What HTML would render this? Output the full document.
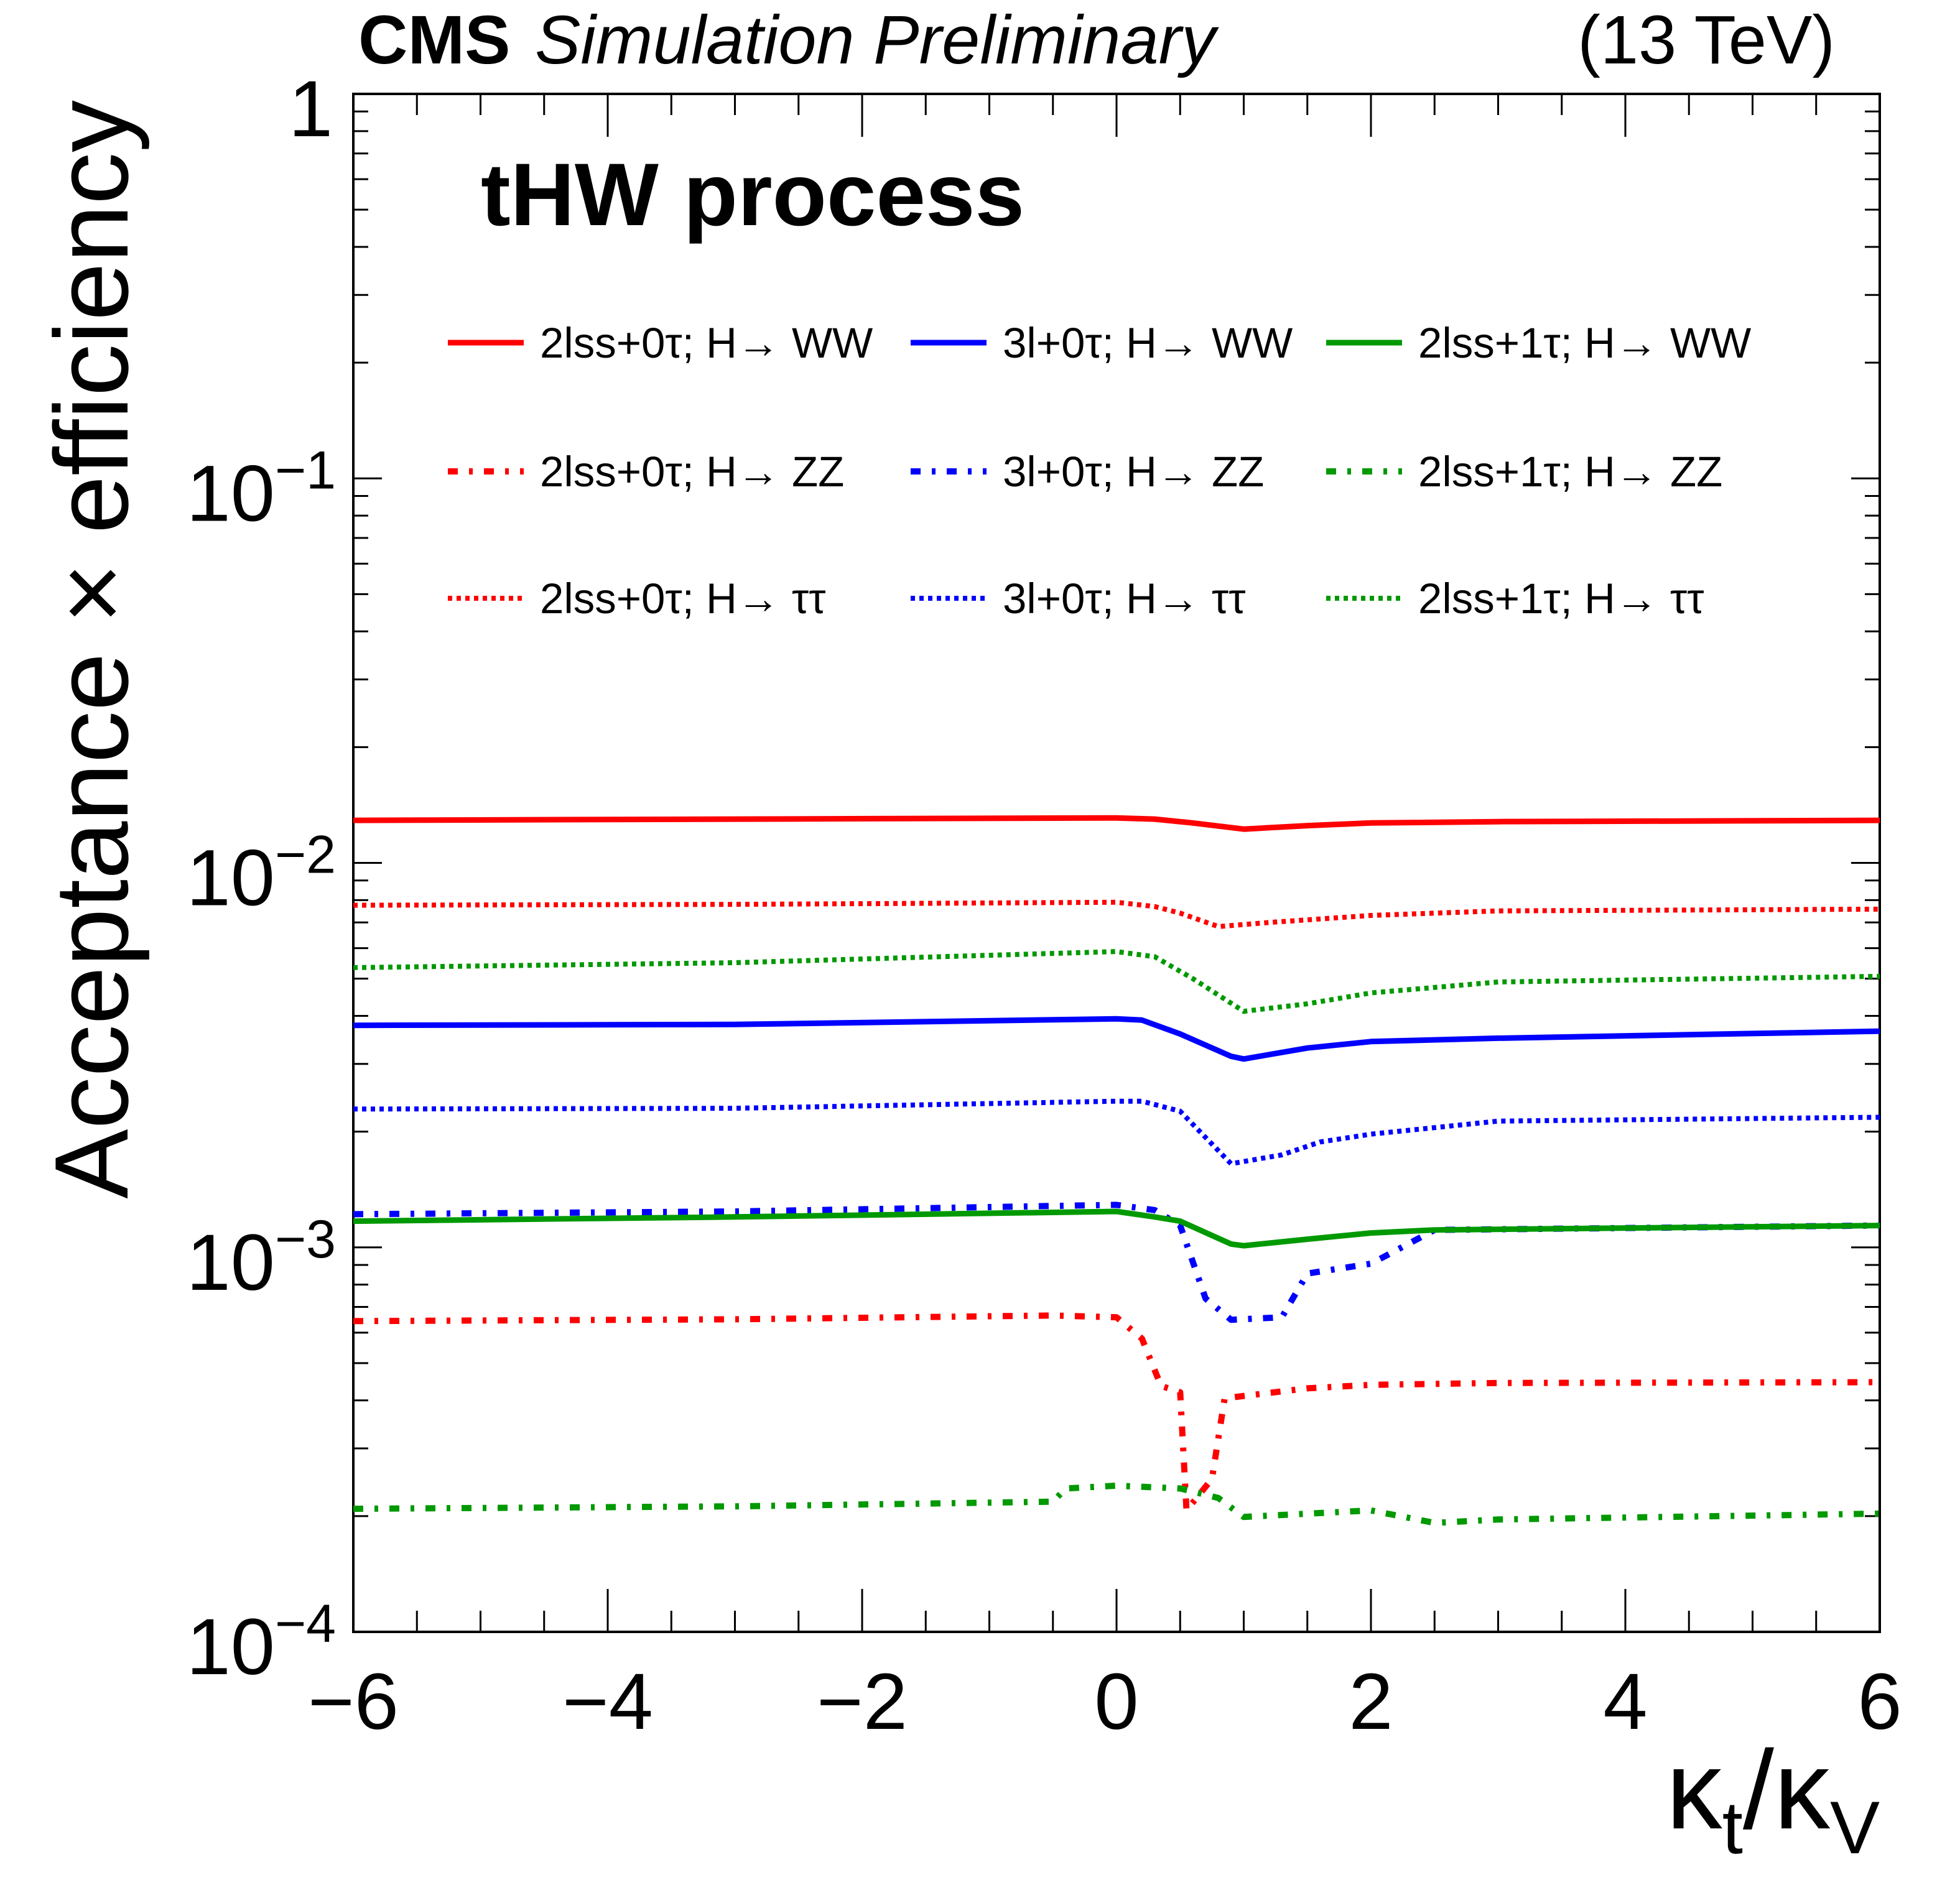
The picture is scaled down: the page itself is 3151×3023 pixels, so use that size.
<!DOCTYPE html>
<html><head><meta charset="utf-8">
<style>
html,body{margin:0;padding:0;background:#fff;}
svg{display:block;font-family:"Liberation Sans",sans-serif;}
</style></head>
<body>
<svg id="chart" width="3151" height="3023" viewBox="0 0 3151 3023" xmlns="http://www.w3.org/2000/svg">
  <rect width="3151" height="3023" fill="#fff"/>
  <text x="576" y="102" font-size="110" font-weight="bold">CMS</text>
  <text x="860" y="102" font-size="110" font-style="italic">Simulation Preliminary</text>
  <text x="2950" y="102" font-size="110" text-anchor="end">(13 TeV)</text>
  <text x="773" y="362" font-size="143" font-weight="bold">tHW process</text>
  <text transform="translate(205,161) rotate(-90)" font-size="168" text-anchor="end">Acceptance × efficiency</text>
  <text x="3022" y="2940" font-size="180" text-anchor="end">κ<tspan font-size="120" dy="40">t</tspan><tspan font-size="180" dy="-40">/κ</tspan><tspan font-size="120" dy="40">V</tspan></text>
  <g id="axes"></g>
  <g id="series"></g>
  <g id="legend"></g>
</svg>
<script>
const xTicks = [-6,-4,-2,0,2,4,6];
const xTickLabels = ["−6","−4","−2","0","2","4","6"];
const yDecades = [-4,-3,-2,-1,0];
const xs_red_ww = [-6,-3,0,0.3,0.6,1,1.5,2,3,6];
const v_red_ww = [0.0129,0.0130,0.01309,0.0130,0.0127,0.01224,0.0125,0.0127,0.0128,0.0129];
const xs_red_tt = [-6,-3,0,0.3,0.5,0.8,1.2,2,3,6];
const v_red_tt = [0.00776,0.0078,0.0079,0.0077,0.0074,0.00683,0.0070,0.0073,0.0075,0.00758];
const xs_grn_tt = [-6,-3,0,0.3,0.6,1,1.5,2,3,6];
const v_grn_tt = [0.00534,0.0055,0.00588,0.0057,0.0050,0.00411,0.0043,0.00459,0.0049,0.00507];
const xs_blu_ww = [-6,-3,0,0.2,0.5,0.9,1,1.5,2,3,6];
const v_blu_ww = [0.00378,0.0038,0.00393,0.0039,0.00359,0.00314,0.00309,0.0033,0.00343,0.0035,0.00365];
const xs_blu_tt = [-6,-3,0,0.2,0.5,0.9,1.3,1.6,2,3,6];
const v_blu_tt = [0.00229,0.0023,0.00240,0.0024,0.00226,0.00165,0.00174,0.00188,0.00197,0.00213,0.00218];
const xs_grn_ww = [-6,-3,0,0.3,0.5,0.9,1,1.5,2,2.5,6];
const v_grn_ww = [0.00117,0.0012,0.00124,0.0012,0.00117,0.00102,0.00101,0.00105,0.00109,0.00111,0.00114];
const xs_blu_zz = [-6,-3,0,0.3,0.5,0.7,0.9,1.3,1.5,2,2.5,6];
const v_blu_zz = [0.00122,0.00124,0.00129,0.00125,0.00114,0.000736,0.000648,0.000658,0.000855,0.000907,0.00111,0.00114];
const xs_red_zz = [-6,-3,-0.5,0,0.2,0.35,0.5,0.55,0.75,0.85,1.5,2,3,6];
const v_red_zz = [0.000643,0.00065,0.000665,0.000658,0.000579,0.000436,0.00042,0.000207,0.00025,0.000405,0.00043,0.000439,0.000444,0.000446];
const xs_grn_zz = [-6,-3,-0.5,-0.4,0,0.5,0.8,1,2,2.5,3,6];
const v_grn_zz = [0.000209,0.000212,0.000218,0.000236,0.000240,0.000236,0.000223,0.000199,0.000207,0.000192,0.000196,0.000203];
const legendLabels = [
 "2lss+0τ; H→ WW","3l+0τ; H→ WW","2lss+1τ; H→ WW",
 "2lss+0τ; H→ ZZ","3l+0τ; H→ ZZ","2lss+1τ; H→ ZZ",
 "2lss+0τ; H→ ττ","3l+0τ; H→ ττ","2lss+1τ; H→ ττ"];

const L=568,R=3022,T=151,B=2624;
const NS="http://www.w3.org/2000/svg";
function X(v){return L+(v+6)/12*(R-L);}
function Y(v){return B-(Math.log10(v)+4)/4*(B-T);}
function mk(tag,attrs,parent){const e=document.createElementNS(NS,tag);for(const k in attrs)e.setAttribute(k,attrs[k]);parent.appendChild(e);return e;}
const axes=document.getElementById('axes');
for(let i=0;i<=24;i++){
  const v=-6+i*0.5; const major=(i%4===0); const len=major?69:34; const x=X(v);
  const t1=mk('line',{x1:x,y1:B,x2:x,y2:B-len,stroke:'#000','stroke-width':3},axes);
  
  
  const t2=mk('line',{x1:x,y1:T,x2:x,y2:T+len,stroke:'#000','stroke-width':3},axes);
  
  
}
for(let d=-4;d<0;d++){
  for(let m=1;m<=9;m++){
    const v=m*Math.pow(10,d); const y=Y(v); const len=(m===1)?46:24;
    const a=mk('line',{x1:L,y1:y,x2:L+len,y2:y,stroke:'#000','stroke-width':3},axes);
    
    
    const b=mk('line',{x1:R,y1:y,x2:R-len,y2:y,stroke:'#000','stroke-width':3},axes);
    
    
  }
}
const fr=mk('rect',{x:L,y:T,width:R-L,height:B-T,fill:'none',stroke:'#000','stroke-width':4},axes);


xTicks.forEach((v,i)=>{
  const t=mk('text',{x:X(v),y:2780,'font-size':128,'text-anchor':'middle'},axes);
  t.textContent=xTickLabels[i];
  
  
});
yDecades.forEach(d=>{
  const y=Y(Math.pow(10,d));
  const t=mk('text',{x:540,y:y+68,'font-size':128,'text-anchor':'end'},axes);
  
  
  if(d===0){t.textContent='1';t.setAttribute('x',535);}
  else{t.textContent='10';const s=mk('tspan',{'font-size':86,dy:-52},t);s.textContent='−'+(-d);}
});
const styles={solid:{w:9,dash:''},dashdot:{w:10,dash:'16 18 6 18'},dot:{w:8,dash:'7 7'}};
const series=[
 {n:'red-ww',xs:xs_red_ww,v:v_red_ww,c:'#ff0000',s:'solid'},
 {n:'red-tautau',xs:xs_red_tt,v:v_red_tt,c:'#ff0000',s:'dot'},
 {n:'green-tautau',xs:xs_grn_tt,v:v_grn_tt,c:'#009900',s:'dot'},
 {n:'blue-ww',xs:xs_blu_ww,v:v_blu_ww,c:'#0000ff',s:'solid'},
 {n:'blue-tautau',xs:xs_blu_tt,v:v_blu_tt,c:'#0000ff',s:'dot'},
 {n:'blue-zz',xs:xs_blu_zz,v:v_blu_zz,c:'#0000ff',s:'dashdot'},
 {n:'green-ww',xs:xs_grn_ww,v:v_grn_ww,c:'#009900',s:'solid'},
 {n:'red-zz',xs:xs_red_zz,v:v_red_zz,c:'#ff0000',s:'dashdot'},
 {n:'green-zz',xs:xs_grn_zz,v:v_grn_zz,c:'#009900',s:'dashdot'}];
const sg=document.getElementById('series');
series.forEach(s=>{
  const pts=s.xs.map((x,i)=>X(x).toFixed(1)+','+Y(s.v[i]).toFixed(1)).join(' ');
  const st=styles[s.s];
  const p=mk('polyline',{points:pts,fill:'none',stroke:s.c,'stroke-width':st.w,'stroke-dasharray':st.dash,'stroke-linejoin':'round'},sg);
  
  
});
const lg=document.getElementById('legend');
const colC=['#ff0000','#0000ff','#009900'];
const rowS=['solid','dashdot','dot'];
const colX=[720,1464,2132];
const rowY=[551,758,962];
for(let r=0;r<3;r++)for(let c=0;c<3;c++){
  const st=styles[rowS[r]];
  const ln=mk('line',{x1:colX[c],y1:rowY[r],x2:colX[c]+122,y2:rowY[r],stroke:colC[c],'stroke-width':st.w,'stroke-dasharray':st.dash},lg);
  
  
  const t=mk('text',{x:colX[c]+148,y:rowY[r]+24,'font-size':69},lg);
  t.textContent=legendLabels[r*3+c];
  
  
}
</script>
</body></html>
